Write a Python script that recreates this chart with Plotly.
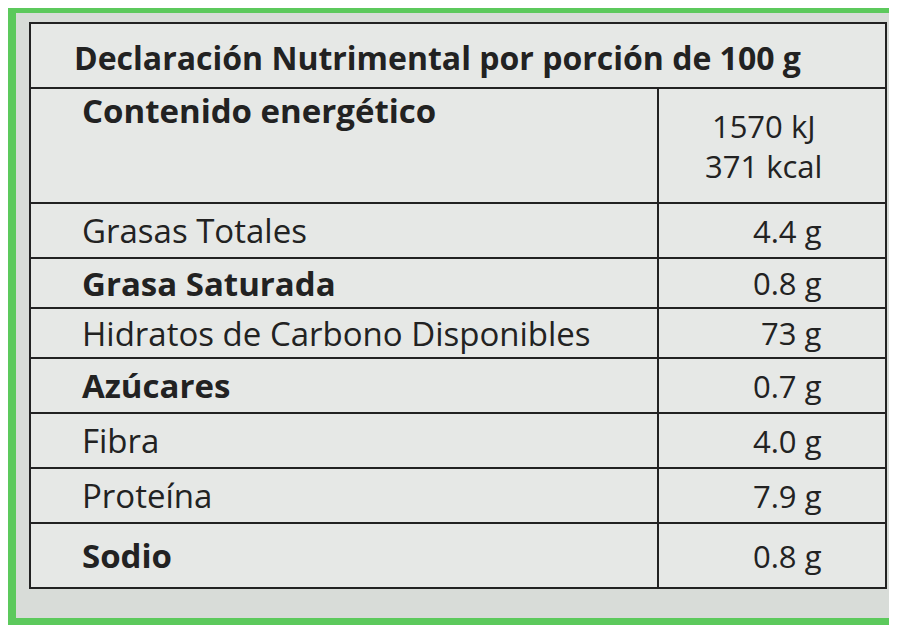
import plotly.graph_objects as go

title = "Declaración Nutrimental por porción de 100 g"
labels = ["Contenido energético", "Grasas Totales", "Grasa Saturada",
          "Hidratos de Carbono Disponibles", "Azúcares", "Fibra", "Proteína", "Sodio"]
values = ["1570 kJ<br>371 kcal", "4.4 g", "0.8 g", "73 g", "0.7 g", "4.0 g", "7.9 g", "0.8 g"]
bold = [True, False, True, False, True, False, False, True]
row_bounds = [80, 195, 250, 300, 350, 405, 460, 515, 580]

W, H = 897, 625
L, R, T, B, DIV = 22, 878, 15, 580, 650

fig = go.Figure()
shapes = [dict(type="rect", x0=0, x1=W, y0=0, y1=H, fillcolor="#5cc95c", line_width=0, layer="below"),
          dict(type="rect", x0=8, x1=W - 4, y0=5, y1=610, fillcolor="#d8dcd8", line_width=0, layer="below"),
          dict(type="rect", x0=L, x1=R, y0=T, y1=B, fillcolor="#e6e8e6",
               line=dict(color="#222", width=2), layer="below"),
          dict(type="line", x0=DIV, x1=DIV, y0=row_bounds[0], y1=B, line=dict(color="#222", width=2))]
for y in row_bounds[:-1]:
    shapes.append(dict(type="line", x0=L, x1=R, y0=y, y1=y, line=dict(color="#222", width=2)))

ann = [dict(x=L + 42, y=(T + row_bounds[0]) / 2 + 2, text="<b>" + title + "</b>", showarrow=False,
            xanchor="left", font=dict(size=32, color="#222"))]
for i, (lab, val) in enumerate(zip(labels, values)):
    y0, y1 = row_bounds[i], row_bounds[i + 1]
    ym = (y0 + y1) / 2 if i else y0 + 22
    ann.append(dict(x=L + 50, y=ym, text=("<b>%s</b>" % lab) if bold[i] else lab, showarrow=False,
                    xanchor="left", font=dict(size=33, color="#222")))
    ann.append(dict(x=R - 62, y=(y0 + y1) / 2, text=val, showarrow=False, xanchor="right",
                    font=dict(size=31, color="#222")))

fig.update_layout(width=W, height=H, margin=dict(l=0, r=0, t=0, b=0),
                  xaxis=dict(range=[0, W], visible=False, fixedrange=True),
                  yaxis=dict(range=[H, 0], visible=False, fixedrange=True),
                  plot_bgcolor="#5cc95c", paper_bgcolor="#5cc95c",
                  shapes=shapes, annotations=ann, font=dict(family="Open Sans"))
fig.write_html("out.html")
